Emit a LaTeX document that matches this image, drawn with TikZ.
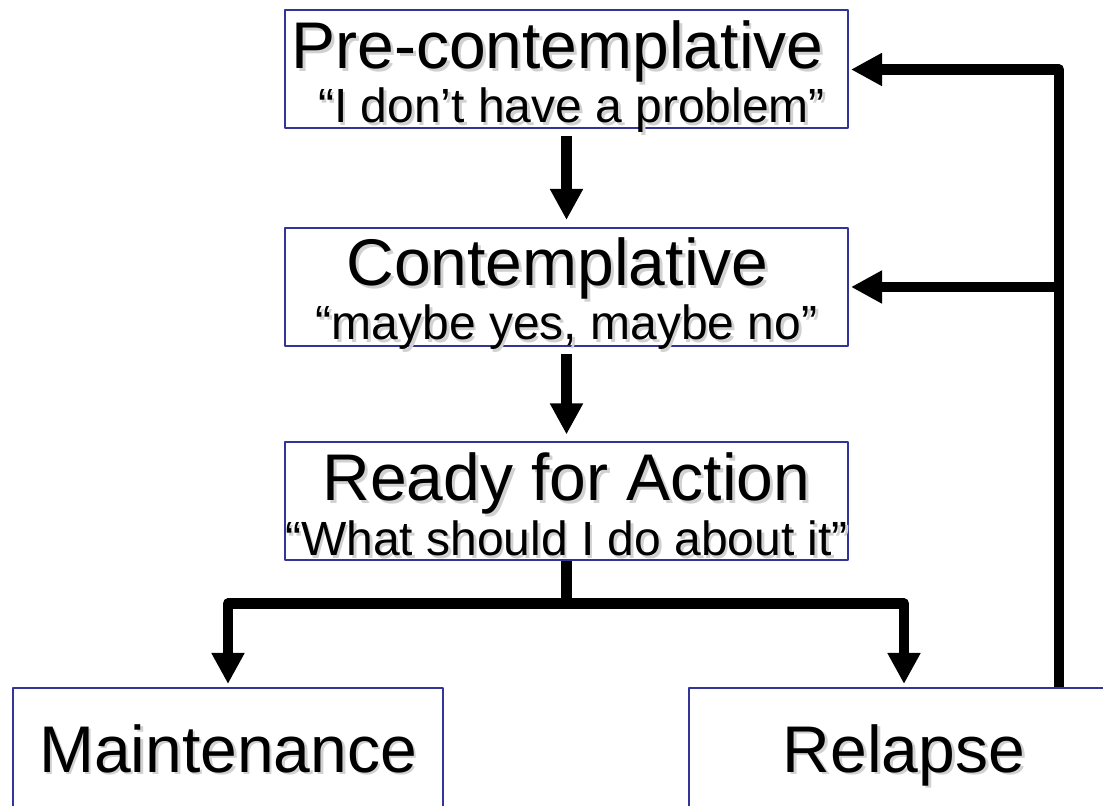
\documentclass[tikz,border=0pt]{standalone}
\usepackage{fontspec}
\setmainfont{Liberation Sans}
\usetikzlibrary{arrows.meta,calc}
\definecolor{boxblue}{RGB}{51,51,153}
\newcommand\shadowed[1]{\makebox[0pt][l]{\hspace{1.4pt}\raisebox{-1.4pt}{\textcolor{black!18}{#1}}}#1}
\tikzset{
  stage/.style={draw=boxblue, line width=1pt, minimum width=281.5pt, minimum height=59pt, inner sep=0pt},
  endstage/.style={draw=boxblue, line width=1pt, minimum width=215pt, minimum height=80pt, inner sep=0pt},
  title/.style={anchor=base, inner sep=0pt, font=\fontsize{33}{36}\selectfont},
  quote/.style={anchor=base, inner sep=0pt, font=\fontsize{24}{28}\selectfont},
  flow/.style={->, line width=5.25pt}
}
\begin{document}
\begin{tikzpicture}[x=0.5pt, y=-0.5pt, line join=round, line cap=butt, >={Triangle[length=15.5pt,width=15.5pt]}]
    \useasboundingbox (0,0) rectangle (1103,806);
    \clip (0,0) rectangle (1103,806);
    % stages
    \node[stage] (pre) at (566.5,69.5) {};
    \node[stage] (con) at (566.5,287) {};
    \node[stage] (ready) at (566.5,501.5) {};
    \node[endstage] (maint) at (228,768) {};
    \node[endstage] (relapse) at (904,768) {};
    % texts
    \node[title] (pretitle) at ($(pre.north)+(-9,59)$) {\shadowed{Pre-contemplative}};
    \node[quote] (prequote) at ($(pre.north)+(5,113)$) {\shadowed{“I don’t have a problem”}};
    \node[title] (contitle) at ($(con.north)+(-9,59)$) {\shadowed{Contemplative}};
    \node[quote] (conquote) at ($(con.north)+(0,113)$) {\shadowed{“maybe yes, maybe no”}};
    \node[title] (readytitle) at ($(ready.north)+(0,59)$) {\shadowed{Ready for Action}};
    \node[quote] (readyquote) at ($(ready.north)+(0,114)$) {\shadowed{“What should I do about it”}};
    \node[title] (mainttitle) at ($(maint.north)+(0,85)$) {\shadowed{Maintenance}};
    \node[title] (relapsetitle) at ($(relapse.north)+(0,85)$) {\shadowed{Relapse}};
    % connectors
    \coordinate (loop) at (1059,69.5);
    \draw[flow, shorten <=3.5pt, shorten >=3.5pt] (pre.south) -- (con.north);
    \draw[flow, shorten <=3.5pt, shorten >=3.5pt] (con.south) -- (ready.north);
    \draw[flow, shorten >=1.5pt] (ready.south) -- ++(0,42) -| (maint.north);
    \draw[flow, shorten >=1.5pt] (ready.south) -- ++(0,42) -| (relapse.north);
    \draw[flow, shorten >=1pt] (relapse.north -| loop) -- (loop) -- (pre.east);
    \draw[flow, shorten >=1pt] (relapse.north -| loop) |- (con.east);
\end{tikzpicture}
\end{document}
